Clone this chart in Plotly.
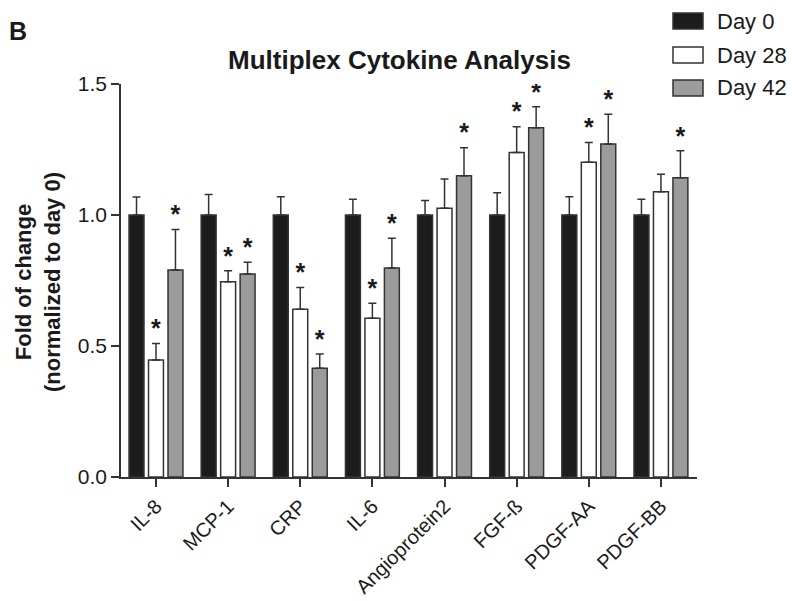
import plotly.graph_objects as go

categories = ["IL-8", "MCP-1", "CRP", "IL-6", "Angioprotein2", "FGF-ß", "PDGF-AA", "PDGF-BB"]
series_names = ["Day 0", "Day 28", "Day 42"]

day0 = [1.0, 1.0, 1.0, 1.0, 1.0, 1.0, 1.0, 1.0]
day0_err = [0.069, 0.078, 0.070, 0.060, 0.055, 0.085, 0.070, 0.060]
day28 = [0.447, 0.745, 0.640, 0.606, 1.026, 1.239, 1.201, 1.089]
day28_err = [0.063, 0.042, 0.083, 0.057, 0.111, 0.098, 0.076, 0.067]
day42 = [0.790, 0.775, 0.415, 0.798, 1.150, 1.333, 1.271, 1.142]
day42_err = [0.155, 0.045, 0.054, 0.113, 0.107, 0.080, 0.114, 0.103]

sig28 = [True, True, True, True, False, True, True, False]
sig42 = [True, True, True, True, True, True, True, True]

y_ticks = [0.0, 0.5, 1.0, 1.5]

colors = ["#1c1c1c", "#ffffff", "#9b9b9b"]
edge = "#333333"
font = "Liberation Sans, Arial, sans-serif"

centers = [-0.27, 0.0, 0.27]
bar_w = 0.207

fig = go.Figure()
xs = list(range(len(categories)))
data = [(day0, day0_err, None), (day28, day28_err, sig28), (day42, day42_err, sig42)]
for k, (vals, errs, sig) in enumerate(data):
    fig.add_trace(go.Bar(
        x=xs, y=vals, name=series_names[k],
        offset=centers[k] - bar_w / 2, width=bar_w,
        marker=dict(color=colors[k], line=dict(color=edge, width=1.5)),
        error_y=dict(type="data", array=errs, arrayminus=[0] * len(errs), symmetric=False,
                     color=edge, thickness=1.5, width=4),
        showlegend=False,
    ))
    if sig is not None:
        sx = [i + centers[k] for i in xs if sig[i]]
        sy = [vals[i] + errs[i] for i in xs if sig[i]]
        fig.add_trace(go.Scatter(
            x=sx, y=sy, mode="text", text=["<b>*</b>"] * len(sx),
            textposition="top center",
            textfont=dict(family=font, size=25, color="#1a1a1a"),
            showlegend=False, hoverinfo="skip",
        ))

# custom legend
leg_y = [21, 55, 88]
for k, name in enumerate(series_names):
    fig.add_shape(type="rect", xref="paper", yref="paper",
                  x0=(673 - 121) / 576, x1=(703 - 121) / 576,
                  y0=(477 - (leg_y[k] + 8)) / 393, y1=(477 - (leg_y[k] - 8)) / 393,
                  fillcolor=colors[k], line=dict(color=edge, width=1.5))
    fig.add_annotation(xref="paper", yref="paper",
                       x=(715 - 121) / 576, y=(477 - leg_y[k]) / 393,
                       text=name, showarrow=False, xanchor="left", yanchor="middle",
                       font=dict(family=font, size=22, color="#1a1a1a"))

fig.add_annotation(xref="paper", yref="paper", x=(7 - 121) / 576, y=(477 - 31) / 393,
                   text="<b>B</b>", showarrow=False, xanchor="left", yanchor="middle",
                   font=dict(family=font, size=25, color="#1a1a1a"))
fig.add_annotation(xref="paper", yref="paper", x=(399 - 121) / 576, y=(477 - 60) / 393,
                   text="<b>Multiplex Cytokine Analysis</b>", showarrow=False,
                   xanchor="center", yanchor="middle",
                   font=dict(family=font, size=26, color="#1a1a1a"))
fig.add_annotation(xref="paper", yref="paper", x=(38 - 121) / 576, y=(477 - 282) / 393,
                   text="<b>Fold of change<br>(normalized to day 0)</b>", showarrow=False,
                   textangle=-90, xanchor="center", yanchor="middle",
                   font=dict(family=font, size=22, color="#1a1a1a"))

fig.update_layout(
    width=792, height=601,
    margin=dict(l=121, r=95, t=84, b=124),
    paper_bgcolor="white", plot_bgcolor="white",
    barmode="overlay",
    font=dict(family=font, color="#1a1a1a"),
)
fig.update_xaxes(
    range=[-0.485, 7.5], tickmode="array", tickvals=xs, ticktext=categories,
    tickangle=-45, ticks="outside", ticklen=8, tickwidth=1.5, tickcolor=edge,
    showline=True, linecolor=edge, linewidth=1.5, showgrid=False, zeroline=False,
    tickfont=dict(family=font, size=20, color="#1a1a1a"), automargin=False,
)
fig.update_yaxes(
    range=[0, 1.5], tickmode="array", tickvals=y_ticks,
    ticktext=["0.0", "0.5", "1.0", "1.5"],
    ticks="outside", ticklen=8, tickwidth=1.5, tickcolor=edge,
    showline=True, linecolor=edge, linewidth=1.5, showgrid=False, zeroline=False,
    tickfont=dict(family=font, size=21, color="#1a1a1a"), automargin=False,
)

fig.write_html("out.html")
